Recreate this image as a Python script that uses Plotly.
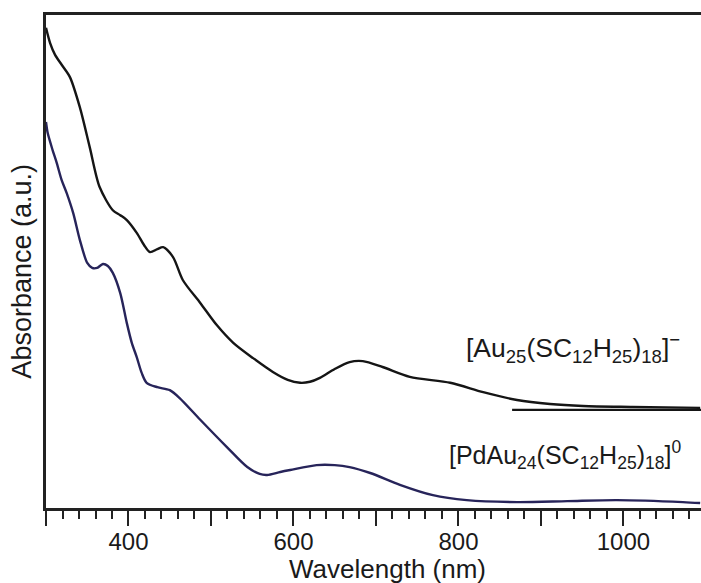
import plotly.graph_objects as go

# Upper spectrum: [Au25(SC12H25)18]-
au25_nm = [300, 305, 311, 319, 329, 341, 353, 365, 381, 390, 398, 410, 419, 426, 435, 442,
           454, 466, 487, 507, 527, 551, 575, 593, 608, 620, 632, 650, 668, 684, 708, 741,
           790, 830, 871, 911, 951, 1011, 1093]
au25_abs = [0.974, 0.943, 0.919, 0.899, 0.874, 0.813, 0.732, 0.651, 0.604, 0.594, 0.584, 0.558,
            0.533, 0.519, 0.525, 0.529, 0.509, 0.462, 0.416, 0.371, 0.335, 0.304, 0.276, 0.260,
            0.254, 0.256, 0.264, 0.282, 0.296, 0.298, 0.286, 0.266, 0.254, 0.235, 0.219, 0.211,
            0.207, 0.205, 0.203]

# Lower spectrum: [PdAu24(SC12H25)18]0
pdau_nm = [300, 302, 308, 313, 319, 325, 333, 341, 350, 356, 362, 369, 375, 381, 390, 398,
           404, 410, 416, 422, 435, 450, 462, 487, 519, 544, 559, 568, 584, 596, 628, 650,
           668, 693, 729, 769, 810, 871, 932, 992, 1072, 1093]
pdau_abs = [0.783, 0.761, 0.726, 0.700, 0.665, 0.639, 0.598, 0.544, 0.497, 0.487, 0.487, 0.495,
            0.491, 0.477, 0.436, 0.375, 0.335, 0.306, 0.274, 0.254, 0.245, 0.239, 0.223, 0.179,
            0.124, 0.083, 0.069, 0.067, 0.073, 0.077, 0.087, 0.087, 0.083, 0.071, 0.047, 0.026,
            0.016, 0.012, 0.014, 0.016, 0.012, 0.010]

# Baseline reference for the upper spectrum
baseline_nm = [865, 1094]
baseline_abs = [0.199, 0.199]

major_ticks = [300, 400, 500, 600, 700, 800, 900, 1000]
major_labels = ["", "400", "", "600", "", "800", "", "1000"]

FONT = "Liberation Sans, Arial, Helvetica, sans-serif"
INK = "#1a1a1a"

fig = go.Figure()
fig.add_trace(go.Scatter(x=au25_nm, y=au25_abs, mode="lines", line=dict(color="#151515", width=2.4, shape="spline", smoothing=0.8), showlegend=False))
fig.add_trace(go.Scatter(x=pdau_nm, y=pdau_abs, mode="lines", line=dict(color="#27245a", width=2.4, shape="spline", smoothing=0.8), showlegend=False))
fig.add_trace(go.Scatter(x=baseline_nm, y=baseline_abs, mode="lines", line=dict(color="#151515", width=2.4), showlegend=False))

fig.update_layout(
    width=701, height=583,
    margin=dict(l=46, r=0, t=15, b=75),
    paper_bgcolor="white", plot_bgcolor="white",
    font=dict(family=FONT, color=INK, size=24),
    xaxis=dict(range=[300, 1094], showgrid=False, zeroline=False,
               showline=True, linecolor="#222", linewidth=2.5, mirror=True,
               tickmode="array", tickvals=major_ticks, ticktext=major_labels,
               ticks="outside", ticklen=15, tickwidth=2, tickcolor="#222",
               ticklabelstandoff=-5,
               tickfont=dict(size=24, family=FONT, color=INK),
               minor=dict(dtick=20, tick0=300, ticks="outside", ticklen=8, tickwidth=2, tickcolor="#222")),
    yaxis=dict(range=[0, 1], showgrid=False, zeroline=False, showticklabels=False,
               showline=True, linecolor="#222", linewidth=2.5, ticks=""),
    annotations=[
        dict(text="Wavelength (nm)", xref="paper", yref="paper", x=0.522, y=-0.124,
             xanchor="center", yanchor="middle", showarrow=False, font=dict(size=26)),
        dict(text="Absorbance (a.u.)", xref="paper", yref="paper", x=-0.037, y=0.481,
             xanchor="center", yanchor="middle", textangle=-90, showarrow=False, font=dict(size=27)),
        dict(text="[Au<sub>25</sub>(SC<sub>12</sub>H<sub>25</sub>)<sub>18</sub>]<sup>−</sup>",
             xref="paper", yref="paper", x=0.971, y=0.325, xanchor="right", yanchor="middle",
             showarrow=False, font=dict(size=26.5)),
        dict(text="[PdAu<sub>24</sub>(SC<sub>12</sub>H<sub>25</sub>)<sub>18</sub>]<sup>0</sup>",
             xref="paper", yref="paper", x=0.973, y=0.108, xanchor="right", yanchor="middle",
             showarrow=False, font=dict(size=25)),
    ],
)

fig.write_html("out.html")
